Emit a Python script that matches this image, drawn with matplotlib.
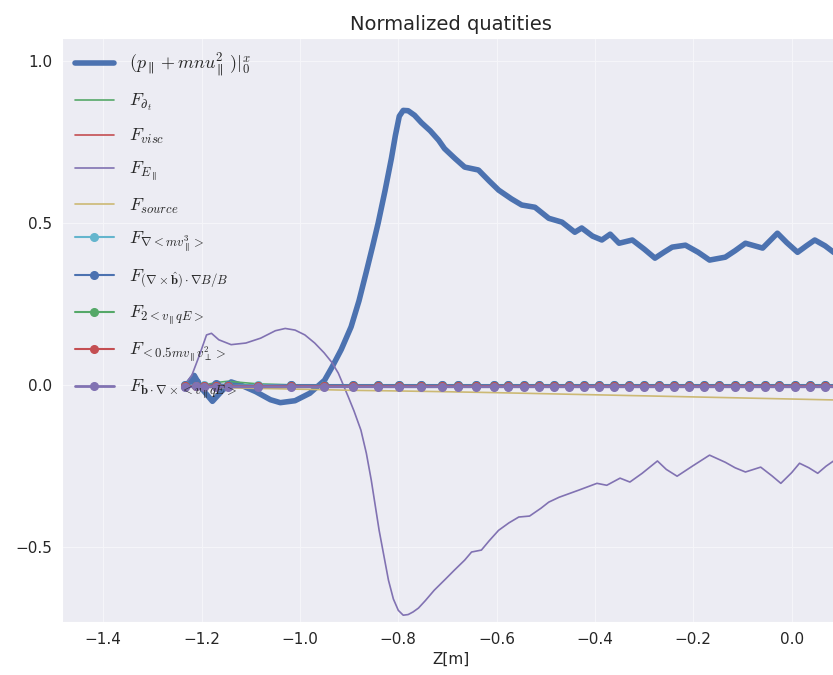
import matplotlib
matplotlib.use('Agg')
import matplotlib.pyplot as plt
import seaborn as sns

# seaborn "deep" (6 colour) cycle
deep = ["#4C72B0", "#55A868", "#C44E52", "#8172B2", "#CCB974", "#64B5CD"]

# total momentum flux, normalised
z_flux = [-1.235, -1.225, -1.215, -1.2, -1.178, -1.16, -1.14, -1.12, -1.09, -1.06,
          -1.04, -1.01, -0.98, -0.95, -0.935, -0.916, -0.896, -0.88, -0.865, -0.852,
          -0.841, -0.827, -0.814, -0.806, -0.798, -0.79, -0.78, -0.767, -0.753, -0.735,
          -0.718, -0.706, -0.685, -0.665, -0.637, -0.615, -0.596, -0.57, -0.549, -0.522,
          -0.494, -0.467, -0.441, -0.427, -0.405, -0.386, -0.369, -0.351, -0.324, -0.3,
          -0.278, -0.26, -0.243, -0.216, -0.19, -0.167, -0.135, -0.115, -0.094, -0.059,
          -0.029, -0.01, 0.012, 0.03, 0.047, 0.068, 0.088, 0.1]
flux = [-0.01, 0.01, 0.03, -0.01, -0.05, -0.02, 0.01, 0.0, -0.02, -0.045,
        -0.054, -0.048, -0.025, 0.015, 0.055, 0.11, 0.18, 0.26, 0.35, 0.43,
        0.50, 0.60, 0.70, 0.77, 0.83, 0.848, 0.847, 0.833, 0.81, 0.785,
        0.756, 0.73, 0.70, 0.673, 0.664, 0.63, 0.602, 0.575, 0.556, 0.549,
        0.515, 0.503, 0.472, 0.485, 0.46, 0.448, 0.466, 0.438, 0.448, 0.42,
        0.392, 0.41, 0.426, 0.432, 0.41, 0.386, 0.395, 0.415, 0.438, 0.423,
        0.469, 0.44, 0.41, 0.43, 0.448, 0.43, 0.407, 0.40]

# parallel electric field term
z_epar = [-1.235, -1.22, -1.205, -1.19, -1.18, -1.165, -1.14, -1.11, -1.08, -1.05,
          -1.03, -1.01, -0.99, -0.97, -0.951, -0.935, -0.922, -0.902, -0.89, -0.876,
          -0.865, -0.855, -0.839, -0.82, -0.81, -0.80, -0.79, -0.78, -0.77, -0.759,
          -0.745, -0.727, -0.705, -0.686, -0.665, -0.651, -0.631, -0.615, -0.596, -0.575,
          -0.555, -0.533, -0.51, -0.494, -0.473, -0.433, -0.396, -0.376, -0.349, -0.329,
          -0.304, -0.273, -0.255, -0.233, -0.202, -0.167, -0.135, -0.115, -0.094, -0.063,
          -0.04, -0.022, 0.0, 0.016, 0.035, 0.053, 0.07, 0.088, 0.1]
f_epar = [0.0, 0.03, 0.09, 0.155, 0.16, 0.14, 0.125, 0.13, 0.145, 0.168,
          0.175, 0.17, 0.155, 0.13, 0.1, 0.07, 0.037, -0.035, -0.08, -0.139,
          -0.21, -0.293, -0.448, -0.602, -0.66, -0.695, -0.71, -0.708, -0.70, -0.688,
          -0.665, -0.633, -0.60, -0.571, -0.54, -0.515, -0.509, -0.48, -0.448, -0.425,
          -0.407, -0.404, -0.38, -0.361, -0.346, -0.324, -0.303, -0.309, -0.287, -0.299,
          -0.272, -0.234, -0.26, -0.281, -0.25, -0.216, -0.238, -0.255, -0.268, -0.253,
          -0.28, -0.303, -0.27, -0.241, -0.255, -0.272, -0.25, -0.231, -0.24]

# grid points of the remaining terms
z_grid = [-1.233, -1.212, -1.196, -1.171, -1.147, -1.086, -1.018, -0.951, -0.892, -0.841,
          -0.798, -0.753, -0.712, -0.678, -0.641, -0.606, -0.576, -0.545, -0.514, -0.484,
          -0.453, -0.423, -0.392, -0.361, -0.331, -0.300, -0.269, -0.239, -0.208, -0.178,
          -0.147, -0.116, -0.086, -0.055, -0.025, 0.006, 0.037, 0.067, 0.098]

f_dt = [0.0, 0.005, 0.0, 0.008, 0.012, 0.004, 0.001, 0.0, 0.0, 0.0,
        0.0, 0.0, 0.0, 0.0, 0.0, 0.0, 0.0, 0.0, 0.0, 0.0,
        0.0, 0.0, 0.0, 0.0, 0.0, 0.0, 0.0, 0.0, 0.0, 0.0,
        0.0, 0.0, 0.0, 0.0, 0.0, 0.0, 0.0, 0.0, 0.0]
f_visc = [0.0, 0.002, 0.001, 0.002, 0.001, 0.0, 0.0, 0.0, 0.0, 0.0,
          0.0, 0.0, 0.0, 0.0, 0.0, 0.0, 0.0, 0.0, 0.0, 0.0,
          0.0, 0.0, 0.0, 0.0, 0.0, 0.0, 0.0, 0.0, 0.0, 0.0,
          0.0, 0.0, 0.0, 0.0, 0.0, 0.0, 0.0, 0.0, 0.0]
f_source = [-0.004, -0.005, -0.006, -0.007, -0.008, -0.010, -0.012, -0.014, -0.016, -0.017,
            -0.018, -0.019, -0.020, -0.021, -0.022, -0.023, -0.024, -0.025, -0.026, -0.027,
            -0.028, -0.029, -0.030, -0.031, -0.032, -0.033, -0.034, -0.035, -0.036, -0.037,
            -0.038, -0.039, -0.040, -0.041, -0.042, -0.043, -0.044, -0.045, -0.046]
f_grad = [0.0] * len(z_grid)
f_curv = [0.0, 0.01, -0.004, 0.003, 0.0, -0.002, 0.0, 0.0, 0.0, 0.0,
          0.0, 0.0, 0.0, 0.0, 0.0, 0.0, 0.0, 0.0, 0.0, 0.0,
          0.0, 0.0, 0.0, 0.0, 0.0, 0.0, 0.0, 0.0, 0.0, 0.0,
          0.0, 0.0, 0.0, 0.0, 0.0, 0.0, 0.0, 0.0, 0.0]
f_2vqe = [-0.003] * len(z_grid)
f_perp = [-0.004] * len(z_grid)
f_bcurl = [-0.006, -0.004, -0.006, -0.005, -0.005, -0.005, -0.005, -0.005, -0.005, -0.005,
           -0.005, -0.005, -0.005, -0.005, -0.005, -0.005, -0.005, -0.005, -0.005, -0.005,
           -0.005, -0.005, -0.005, -0.005, -0.005, -0.005, -0.005, -0.005, -0.005, -0.005,
           -0.005, -0.005, -0.005, -0.005, -0.005, -0.005, -0.005, -0.005, -0.005]

labels = [r'$(p_\parallel+mnu_\parallel^2\,)|_0^x$',
          r'$F_{\partial_t}$',
          r'$F_{visc}$',
          r'$F_{E_\parallel}$',
          r'$F_{source}$',
          r'$F_{\nabla<mv_\parallel^3>}$',
          r'$F_{(\nabla\times\hat{\mathbf{b}})\cdot\nabla B/B}$',
          r'$F_{2<v_\parallel qE>}$',
          r'$F_{<0.5mv_\parallel v_\perp^2>}$',
          r'$F_{\mathbf{b}\cdot\nabla\times<v_\parallel qE>}$']

sns.set_style('darkgrid', {'axes.facecolor': '#ECECF3', 'grid.color': '#F5F5F9'})
plt.rcParams['mathtext.fontset'] = 'cm'

fig = plt.figure(figsize=(8.33, 6.75), dpi=100)
ax = fig.add_axes([0.0744, 0.0785, 0.935, 0.865])

ax.plot(z_flux, flux, color=deep[0], lw=4, label=labels[0])
ax.plot(z_grid, f_dt, color=deep[1], lw=1.2, label=labels[1])
ax.plot(z_grid, f_visc, color=deep[2], lw=1.2, label=labels[2])
ax.plot(z_epar, f_epar, color=deep[3], lw=1.2, label=labels[3])
ax.plot(z_grid, f_source, color=deep[4], lw=1.2, label=labels[4])
ax.plot(z_grid, f_grad, color=deep[5], lw=1.5, marker='o', ms=5.5, label=labels[5])
ax.plot(z_grid, f_curv, color=deep[0], lw=1.5, marker='o', ms=5.5, label=labels[6])
ax.plot(z_grid, f_2vqe, color=deep[1], lw=1.5, marker='o', ms=5.5, label=labels[7])
ax.plot(z_grid, f_perp, color=deep[2], lw=1.5, marker='o', ms=5.5, label=labels[8])
ax.plot(z_grid, f_bcurl, color=deep[3], lw=2, marker='o', ms=5.5, label=labels[9])

ax.set_xlim(-1.484, 0.1)
ax.set_ylim(-0.731, 1.071)
ax.set_xticks([-1.4, -1.2, -1.0, -0.8, -0.6, -0.4, -0.2, 0.0])
ax.set_yticks([-0.5, 0.0, 0.5, 1.0])
ax.tick_params(labelsize=11)
ax.set_xlabel('Z[m]', fontsize=11)
ax.set_title('Normalized quatities', fontsize=14)

ax.legend(loc='upper left', fontsize=13, frameon=False, labelspacing=0.75,
          handlelength=2.2, borderaxespad=0.3)

fig.savefig('out.png', dpi=100)
